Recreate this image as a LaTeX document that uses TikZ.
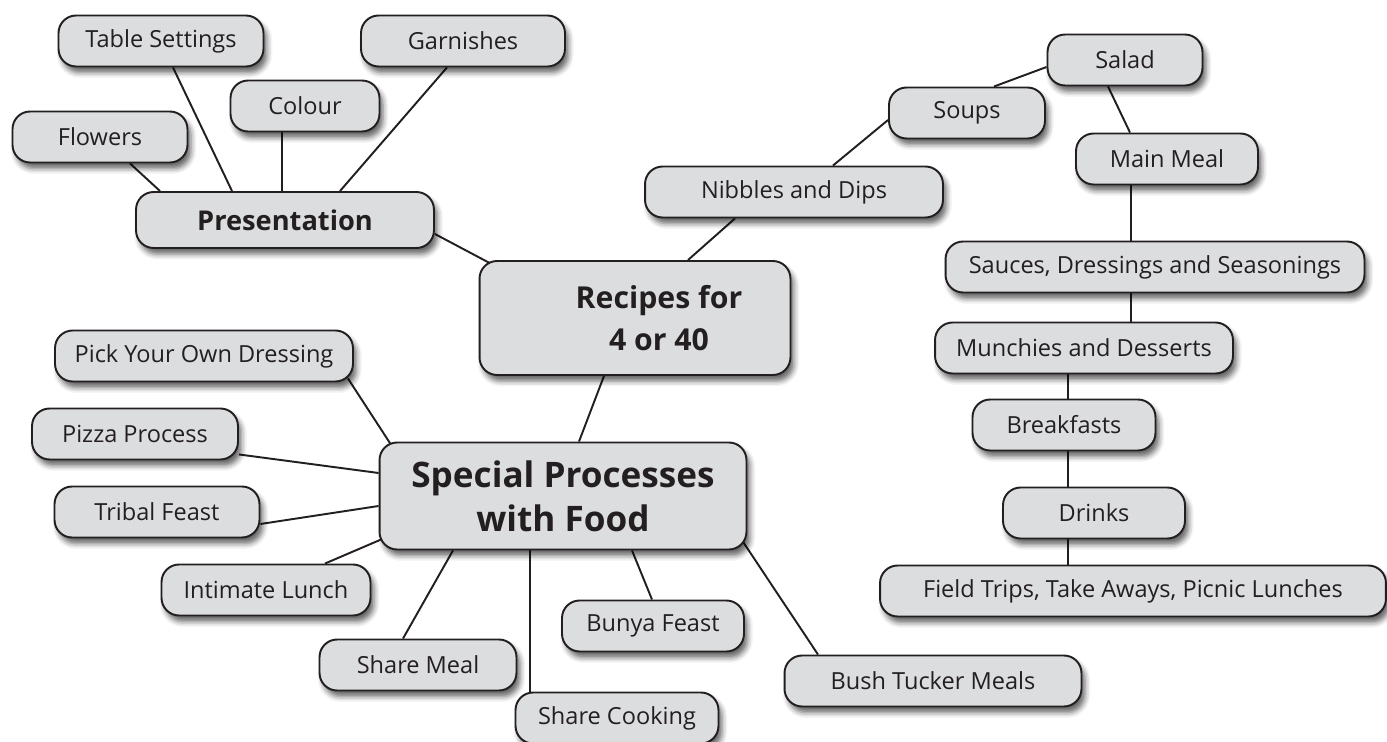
\documentclass[tikz,border=0pt]{standalone}
\usepackage{fontspec}
\setmainfont{Open Sans}
\usetikzlibrary{shadows,shadows.blur,calc,backgrounds}
\definecolor{boxgray}{HTML}{DCDDDF}
\definecolor{ink}{HTML}{231F20}

\begin{document}
\begin{tikzpicture}[x=0.02cm, y=-0.02cm,
    box/.style={draw=ink, line width=1.1pt, fill=boxgray, rounded corners=10pt,
      text=ink, inner sep=0pt, minimum height=1.02cm,
      font=\fontsize{13.4}{16}\selectfont,
      blur shadow={shadow xshift=2pt, shadow yshift=-3.5pt,
        shadow blur radius=3pt, shadow opacity=60}},
    head/.style={box, align=center, font=\bfseries\fontsize{15.5}{23.8}\selectfont},
    link/.style={draw=ink, line width=1.1pt}]
  \useasboundingbox (0,0) rectangle (1387,742);

  \node[head, minimum width=5.96cm, minimum height=1.12cm] (pres) at (285,220) {Presentation};
  \node[box, minimum width=4.1cm] (tset) at (161,41) {Table Settings};
  \node[box, minimum width=4.08cm] (garn) at (463,41) {Garnishes};
  \node[box, minimum width=2.98cm] (colour) at (305,106) {Colour};
  \node[box, minimum width=3.5cm] (flowers) at (100,137) {Flowers};

  \node[head, minimum width=6.22cm, minimum height=2.28cm,
    font=\bfseries\fontsize{17.2}{23.8}\selectfont] (recipes) at (635,318)
    {\hspace*{0.96cm}Recipes for\\\hspace*{0.96cm}4 or 40};
  \node[box, minimum width=5.96cm] (nibbles) at (794,192) {Nibbles and Dips};
  \node[box, minimum width=3.12cm] (soups) at (967,113) {Soups};
  \node[box, minimum width=3.1cm] (salad) at (1125,60) {Salad};
  \node[box, minimum width=3.64cm] (mainmeal) at (1167,159) {Main Meal};
  \node[box, minimum width=8.38cm] (sauces) at (1155,267) {Sauces, Dressings and Seasonings};
  \node[box, minimum width=5.96cm] (munchies) at (1084,348) {Munchies and Desserts};
  \node[box, minimum width=3.66cm] (breakfasts) at (1064,425) {Breakfasts};
  \node[box, minimum width=3.64cm] (drinks) at (1094,513) {Drinks};
  \node[box, minimum width=10.12cm] (fieldtrips) at (1133,591) {Field Trips, Take Aways, Picnic Lunches};

  \node[head, minimum width=7.34cm, minimum height=2.14cm,
    font=\bfseries\fontsize{20}{25}\selectfont] (special) at (563,496) {Special Processes\\with Food};
  \node[box, minimum width=5.96cm] (pick) at (204,356) {Pick Your Own Dressing};
  \node[box, minimum width=4.12cm] (pizza) at (135,434) {Pizza Process};
  \node[box, minimum width=4.1cm] (tribal) at (157,512) {Tribal Feast};
  \node[box, minimum width=4.18cm] (intimate) at (266,590) {Intimate Lunch};
  \node[box, minimum width=3.94cm] (sharemeal) at (418,665) {Share Meal};
  \node[box, minimum width=4.06cm] (sharecook) at (617,718) {Share Cooking};
  \node[box, minimum width=3.64cm] (bunya) at (653,626) {Bunya Feast};
  \node[box, minimum width=5.94cm] (bush) at (933,681) {Bush Tucker Meals};

  \begin{scope}[on background layer]
    \draw[link] ($(flowers.south)+(30,0)$) -- ($(pres.north)+(-125,0)$);
    \draw[link] ($(tset.south)+(12,0)$) -- ($(pres.north)+(-53,0)$);
    \draw[link] ($(colour.south)+(-23,0)$) -- ($(pres.north)+(-3,0)$);
    \draw[link] ($(garn.south)+(-16,0)$) -- ($(pres.north)+(55,0)$);
    \draw[link] ($(pres.east)+(0,14)$) -- ($(recipes.north west)+(13,4)$);

    \draw[link] ($(recipes.north)+(53,0)$) -- ($(nibbles.south)+(-59,0)$);
    \draw[link] ($(nibbles.north)+(39,0)$) -- ($(soups.west)+(0,7)$);
    \draw[link] ($(soups.north)+(27,0)$) -- ($(salad.west)+(0,7)$);
    \draw[link] ($(salad.south)+(-17,0)$) -- ($(mainmeal.north)+(-37,0)$);
    \draw[link] ($(mainmeal.south)+(-36,0)$) -- ($(sauces.north)+(-24,0)$);
    \draw[link] ($(sauces.south)+(-24,0)$) -- ($(munchies.north)+(47,0)$);
    \draw[link] ($(munchies.south)+(-16,0)$) -- ($(breakfasts.north)+(4,0)$);
    \draw[link] ($(breakfasts.south)+(4,0)$) -- ($(drinks.north)+(-26,0)$);
    \draw[link] ($(drinks.south)+(-26,0)$) -- ($(fieldtrips.north)+(-65,0)$);

    \draw[link] ($(recipes.south)+(-31,0)$) -- ($(special.north)+(16,0)$);
    \draw[link] ($(pick.south east)+(-6,-4)$) -- ($(special.north west)+(13,4)$);
    \draw[link] ($(pizza.south east)+(0,-6)$) -- ($(special.west)+(0,-23)$);
    \draw[link] ($(tribal.east)+(0,12)$) -- ($(special.west)+(0,10)$);
    \draw[link] ($(intimate.north)+(59,0)$) -- ($(special.south west)+(5,-12)$);
    \draw[link] ($(sharemeal.north)+(-15,0)$) -- ($(special.south)+(-110,0)$);
    \draw[link] ($(sharecook.north)+(-87,0)$) -- ($(special.south)+(-33,0)$);
    \draw[link] ($(bunya.north)+(-1,0)$) -- ($(special.south)+(69,0)$);
    \draw[link] ($(bush.north)+(-115,0)$) -- ($(special.south east)+(-4,-8)$);
  \end{scope}
\end{tikzpicture}
\end{document}
